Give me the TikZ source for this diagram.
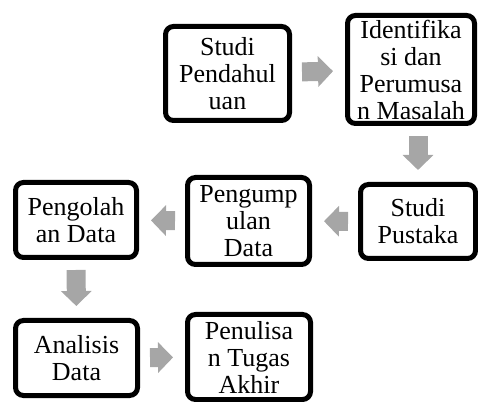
\documentclass[tikz,border=0pt]{standalone}
\usepackage{fontspec}
\setmainfont{Liberation Serif}
\newfontfamily\stagefont{Liberation Serif}
\usepackage{xcolor}
\usepackage{tikz}
\usetikzlibrary{arrows.meta}

\definecolor{flowgray}{HTML}{A6A6A6}

\begin{document}
\begin{tikzpicture}[
    x=1pt, y=1pt,
    stage/.style={
        draw,
        line width=5pt,
        rounded corners=8pt,
        minimum width=122pt,
        minimum height=76pt,
        inner sep=0pt,
        align=center,
        font=\stagefont\fontsize{26}{27}\selectfont
    },
    flow/.style={
        -{Triangle[length=15pt,width=30pt]},
        line width=19pt,
        draw=flowgray,
        shorten <=10pt,
        shorten >=12pt
    }
]
\useasboundingbox (0,0) rectangle (478,401);

% top row
\node[stage, minimum width=124pt, minimum height=94pt] (studi) at (227.5,327.5)
    {Studi\\Pendahul\\uan};
\node[stage, minimum width=127pt, minimum height=108pt] (identifikasi) at (411,331.5)
    {Identifika\\si dan\\Perumusa\\n Masalah};

% middle row
\node[stage, minimum width=115pt, minimum height=74pt] (pustaka) at (418,179.5)
    {Studi\\Pustaka};
\node[stage, minimum width=122pt, minimum height=87pt] (pengumpulan) at (248.5,180)
    {Pengump\\ulan\\Data};
\node[stage, minimum width=121pt, minimum height=75pt] (pengolahan) at (76,181)
    {Pengolah\\an Data};

% bottom row
\node[stage, minimum width=122pt, minimum height=75pt] (analisis) at (76.5,43)
    {Analisis\\Data};
\node[stage, minimum width=123pt, minimum height=85pt] (penulisan) at (249,44)
    {Penulisa\\n Tugas\\Akhir};

\draw[flow] (studi) -- (identifikasi);
\draw[flow] (identifikasi.south -| pustaka) -- (pustaka.north);
\draw[flow] (pustaka) -- (pengumpulan);
\draw[flow] (pengumpulan) -- (pengolahan);
\draw[flow] (pengolahan) -- (analisis);
\draw[flow] (analisis) -- (penulisan);

\end{tikzpicture}
\end{document}
